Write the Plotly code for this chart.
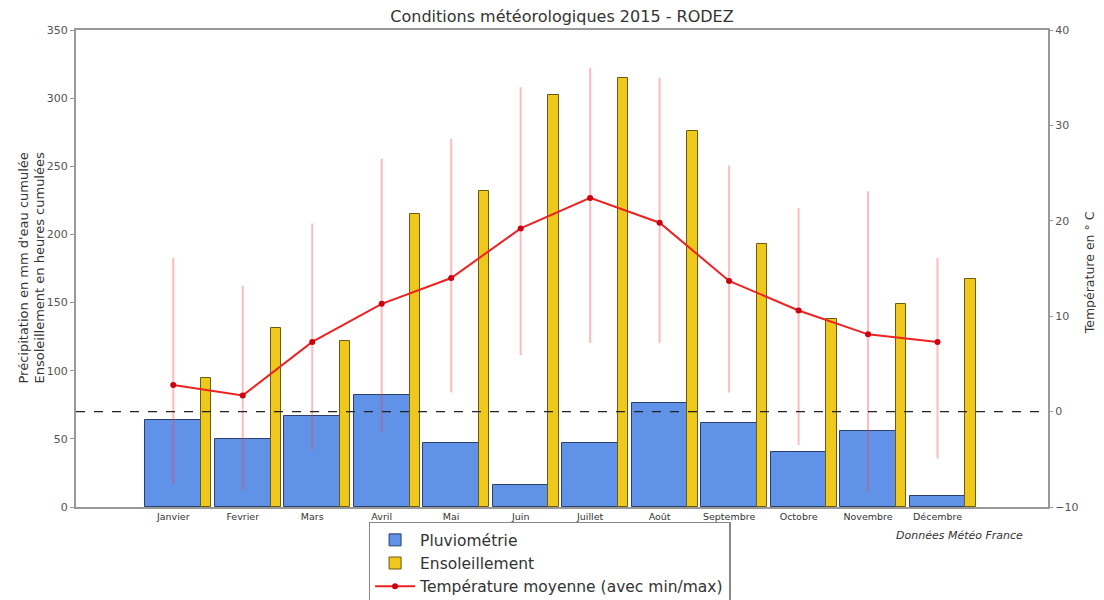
import plotly.graph_objects as go

months = ["Janvier", "Fevrier", "Mars", "Avril", "Mai", "Juin", "Juillet",
          "Août", "Septembre", "Octobre", "Novembre", "Décembre"]
pluvio = [64, 50, 67, 82, 47, 16, 47, 76, 62, 40, 56, 8]
soleil = [95, 131, 122, 215, 232, 302, 315, 276, 193, 138, 149, 167]
temp_moy = [2.8, 1.7, 7.3, 11.3, 14.0, 19.2, 22.4, 19.8, 13.7, 10.6, 8.1, 7.3]
temp_min = [-7.5, -8.1, -3.9, -2.1, 2.1, 6.0, 7.3, 7.3, 2.1, -3.4, -8.3, -4.8]
temp_max = [16.0, 13.1, 19.6, 26.4, 28.5, 33.9, 35.9, 34.9, 25.7, 21.2, 23.0, 16.0]

idx = list(range(len(months)))
x_sun = [i + 0.475 for i in idx]
err_plus = [mx - t for mx, t in zip(temp_max, temp_moy)]
err_minus = [t - mn for mn, t in zip(temp_min, temp_moy)]

FONT = "DejaVu Sans"
GRAY = "#999999"

fig = go.Figure()
fig.add_trace(go.Bar(
    x=idx, y=pluvio, width=0.8, name="Pluviométrie",
    marker=dict(color="#6092E8", line=dict(color="#2a3f6a", width=1)),
))
fig.add_trace(go.Bar(
    x=x_sun, y=soleil, width=0.15, name="Ensoleillement",
    marker=dict(color="#EEC81A", line=dict(color="#6b5a10", width=1)),
))
fig.add_trace(go.Scatter(
    x=idx, y=temp_moy, yaxis="y2", mode="lines+markers",
    name="Température moyenne (avec min/max)",
    line=dict(color="#EE2222", width=2),
    marker=dict(color="#CC0011", size=6),
    error_y=dict(type="data", symmetric=False, array=err_plus, arrayminus=err_minus,
                 color="rgba(255,60,60,0.35)", thickness=2, width=1),
))

fig.add_shape(type="line", xref="paper", x0=0, x1=1, yref="y2", y0=0, y1=0,
              line=dict(color="#222222", width=1.2, dash="dash"), layer="above")

fig.add_annotation(text="<i>Données Météo France</i>", xref="paper", yref="paper",
                   x=0.976, y=-0.059, xanchor="right", yanchor="middle", showarrow=False,
                   font=dict(family=FONT, size=11, color="#333333"))

# axis titles
fig.add_annotation(text="Précipitation en mm d'eau cumulée<br>Ensoleillement en heures cumulées",
                   xref="paper", yref="paper", x=0, y=0.5, xshift=-45, textangle=-90,
                   xanchor="center", yanchor="middle", showarrow=False,
                   font=dict(family=FONT, size=13, color="#333333"))
fig.add_annotation(text="Température en ° C",
                   xref="paper", yref="paper", x=1, y=0.49, xshift=41, textangle=-90,
                   xanchor="center", yanchor="middle", showarrow=False,
                   font=dict(family=FONT, size=12.5, color="#333333"))

fig.update_layout(
    width=1096, height=592,
    margin=dict(l=68, r=56, t=22, b=93, autoexpand=False),
    paper_bgcolor="white", plot_bgcolor="white",
    barmode="overlay",
    bargap=0,
    title=dict(text="Conditions météorologiques 2015 - RODEZ", x=0.5, xref="paper",
               y=0.985, yanchor="middle",
               font=dict(family=FONT, size=16, color="#333333")),
    font=dict(family=FONT, color="#333333"),
    xaxis=dict(range=[-1.4, 12.59], tickmode="array", tickvals=idx, ticktext=months,
               tickfont=dict(size=9.5, color="#333333"), showgrid=False, zeroline=False,
               showline=True, linecolor=GRAY, linewidth=2, mirror=True,
               ticks="", fixedrange=True, automargin=False),
    yaxis=dict(range=[0, 350], dtick=50, showgrid=False, zeroline=False,
               showline=True, linecolor=GRAY, linewidth=2, mirror=True,
               ticks="outside", ticklen=4, tickcolor=GRAY, automargin=False,
               tickfont=dict(size=11, color="#555555")),
    yaxis2=dict(range=[-10, 40], dtick=10, overlaying="y", side="right",
                showgrid=False, zeroline=False, showline=False, automargin=False,
                ticks="outside", ticklen=4, tickcolor=GRAY,
                tickfont=dict(size=11, color="#555555")),
    legend=dict(x=0.301, y=-0.031, xanchor="left", yanchor="top",
                bordercolor="#888888", borderwidth=1.5, bgcolor="white",
                font=dict(family=FONT, size=15.5, color="#333333"),
                tracegroupgap=0, itemwidth=40),
    showlegend=True,
)

fig.write_html("out.html")
